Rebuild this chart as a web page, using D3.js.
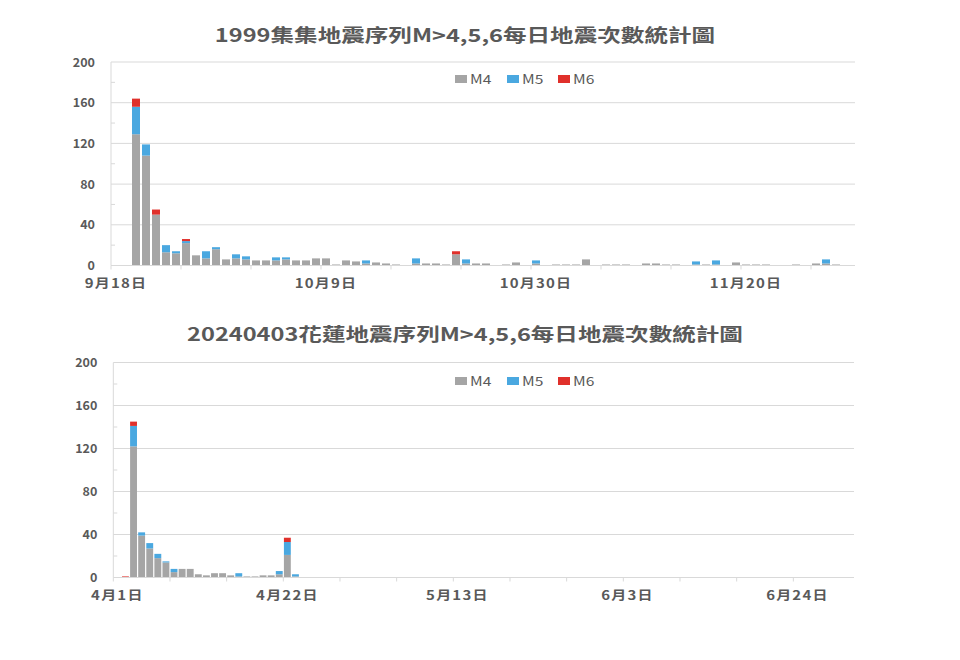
<!DOCTYPE html>
<html>
<head>
<meta charset="utf-8">
<script src="https://cdn.jsdelivr.net/npm/d3@7"></script>
<style>
  body { margin: 0; background: #fff; }
  text { font-family: "Noto Sans CJK TC", "Open Sans", sans-serif; fill: #595959; }
</style>
</head>
<body>
<svg id="chart" width="960" height="660"></svg>
<script>
// ---------------- DATA ----------------
const seriesNames = ["M4", "M5", "M6"];
const seriesColors = ["#A5A5A5", "#4AA8E0", "#E0302B"];
const yTicks = [0, 40, 80, 120, 160, 200];

// 1999 Chi-Chi sequence (daily counts starting 1999-09-20)
const title1 = "1999集集地震序列M>4,5,6每日地震次數統計圖";
const top_start = "1999-09-20";
const top_M4 = [129,108,50,13,12,22,10,7,16,6,7,6,5,5,5,6,5,5,7,7,1,5,4,2,3,2,1,0,2,2,2,1,11,2,2,2,0,1,3,0,2,0,1,1,1,6,0,1,1,1,0,2,2,1,1,0,1,1,1,0,3,1,1,1,0,0,1,0,2,2,1];
const top_M5 = [27,11,0,7,2,2,0,7,2,0,4,3,0,0,3,2,0,0,0,0,0,0,0,3,0,0,0,0,5,0,0,0,0,4,0,0,0,0,0,0,3,0,0,0,0,0,0,0,0,0,0,0,0,0,0,0,3,0,4,0,0,0,0,0,0,0,0,0,0,4,0];
const top_M6 = [8,0,5,0,0,2,0,0,0,0,0,0,0,0,0,0,0,0,0,0,0,0,0,0,0,0,0,0,0,0,0,0,3,0,0,0,0,0,0,0,0,0,0,0,0,0,0,0,0,0,0,0,0,0,0,0,0,0,0,0,0,0,0,0,0,0,0,0,0,0,0];
const top_range = ["1999-09-18", "1999-12-01"];
const top_xLabels = ["9月18日", "10月9日", "10月30日", "11月20日"];

// 2024-04-03 Hualien sequence (daily counts starting 2024-04-02)
const title2 = "20240403花蓮地震序列M>4,5,6每日地震次數統計圖";
const bot_start = "2024-04-02";
const bot_M4 = [0,122,39,27,18,14,5,8,8,3,2,4,4,2,1,1,1,2,2,3,21,1];
const bot_M5 = [0,19,3,5,4,1,3,0,0,0,0,0,0,0,3,0,0,0,0,3,12,2];
const bot_M6 = [1,4,0,0,0,0,0,0,0,0,0,0,0,0,0,0,0,0,0,0,4,0];
const bot_range = ["2024-04-01", "2024-07-01"];
const bot_xLabels = ["4月1日", "4月22日", "5月13日", "6月3日", "6月24日"];

// ---------------- DRAW ----------------
const svg = d3.select("#chart");
const parse = d3.timeParse("%Y-%m-%d");
const fmtKey = d3.timeFormat("%Y-%m-%d");

function drawChart(cfg) {
  const days = d3.timeDay.range(parse(cfg.range[0]), parse(cfg.range[1]));
  const keys = days.map(fmtKey);
  const x = d3.scaleBand().domain(keys).range([cfg.left, cfg.right]).paddingInner(cfg.pad).paddingOuter(cfg.pad / 2);
  const y = d3.scaleLinear().domain([0, 200]).range([cfg.bottom, cfg.top]);
  const g = svg.append("g");

  // gridlines
  g.selectAll(".grid").data(yTicks.filter(t => t > 0)).join("line")
    .attr("x1", cfg.left).attr("x2", cfg.right + 4)
    .attr("y1", d => y(d)).attr("y2", d => y(d))
    .attr("stroke", "#D9D9D9").attr("stroke-width", 1);

  // y axis line & minor ticks
  g.append("line").attr("x1", cfg.left).attr("x2", cfg.left)
    .attr("y1", y(200)).attr("y2", y(0)).attr("stroke", "#D9D9D9");
  g.selectAll(".minor").data(d3.range(20, 200, 40)).join("line")
    .attr("x1", cfg.left).attr("x2", cfg.left + 4)
    .attr("y1", d => y(d)).attr("y2", d => y(d)).attr("stroke", "#D9D9D9");

  // y labels
  g.selectAll(".ylab").data(yTicks).join("text")
    .attr("x", cfg.left - 16).attr("y", d => y(d) + 4.5)
    .attr("text-anchor", "end").attr("font-size", 12.5).attr("font-weight", "bold")
    .text(d => d);

  // stacked data
  const start = parse(cfg.start);
  const rows = cfg.M4.map((v, i) => ({
    key: fmtKey(d3.timeDay.offset(start, i)), M4: v, M5: cfg.M5[i], M6: cfg.M6[i]
  }));
  const stack = d3.stack().keys(seriesNames)(rows);
  g.selectAll(".series").data(stack).join("g")
    .attr("fill", (d, i) => seriesColors[i])
    .selectAll("rect").data(d => d.filter(p => p[1] > p[0])).join("rect")
    .attr("x", d => x(d.data.key)).attr("width", x.bandwidth())
    .attr("y", d => y(d[1])).attr("height", d => y(d[0]) - y(d[1]));

  // x axis line & ticks every 7 days (at band boundaries)
  g.append("line").attr("x1", cfg.left).attr("x2", cfg.right + 4)
    .attr("y1", y(0)).attr("y2", y(0)).attr("stroke", "#D9D9D9");
  const step = x.step();
  const tickKeys = keys.filter((k, i) => i % 7 === 0);
  g.selectAll(".xt").data(tickKeys).join("line")
    .attr("x1", d => x(d) - step * cfg.pad / 2).attr("x2", d => x(d) - step * cfg.pad / 2)
    .attr("y1", y(0)).attr("y2", y(0) + 4).attr("stroke", "#D9D9D9");

  // x labels every 21 days
  const labKeys = keys.filter((k, i) => i % 21 === 0);
  g.selectAll(".xlab").data(labKeys).join("text")
    .attr("transform", d => `translate(${x(d) + x.bandwidth() / 2},${y(0) + 22}) scale(1.2,1)`)
    .attr("text-anchor", "middle").attr("font-size", 12.5).attr("font-weight", "bold")
    .attr("letter-spacing", 1)
    .text((d, i) => cfg.xLabels[i]);

  // title (horizontally stretched like the reference)
  g.append("text").attr("transform", `translate(465,${cfg.titleY}) scale(1.31,1)`)
    .attr("text-anchor", "middle").attr("font-size", 18).attr("font-weight", "bold")
    .text(cfg.title);

  // legend
  const lg = g.append("g").attr("transform", `translate(455,${cfg.legendY})`);
  const offs = [0, 52, 103];
  seriesNames.forEach((n, i) => {
    lg.append("rect").attr("x", offs[i]).attr("y", -4).attr("width", 12).attr("height", 8)
      .attr("fill", seriesColors[i]);
    lg.append("text").attr("transform", `translate(${offs[i] + 15},4.5) scale(1.25,1)`)
      .attr("font-size", 12.5).text(n);
  });
}

drawChart({
  title: title1, titleY: 42, range: top_range, start: top_start,
  M4: top_M4, M5: top_M5, M6: top_M6, xLabels: top_xLabels,
  left: 111, right: 851, top: 62, bottom: 265.5, pad: 0.2, legendY: 79
});
drawChart({
  title: title2, titleY: 341, range: bot_range, start: bot_start,
  M4: bot_M4, M5: bot_M5, M6: bot_M6, xLabels: bot_xLabels,
  left: 113.3, right: 850, top: 362.5, bottom: 577.5, pad: 0.15, legendY: 381
});
</script>
</body>
</html>
